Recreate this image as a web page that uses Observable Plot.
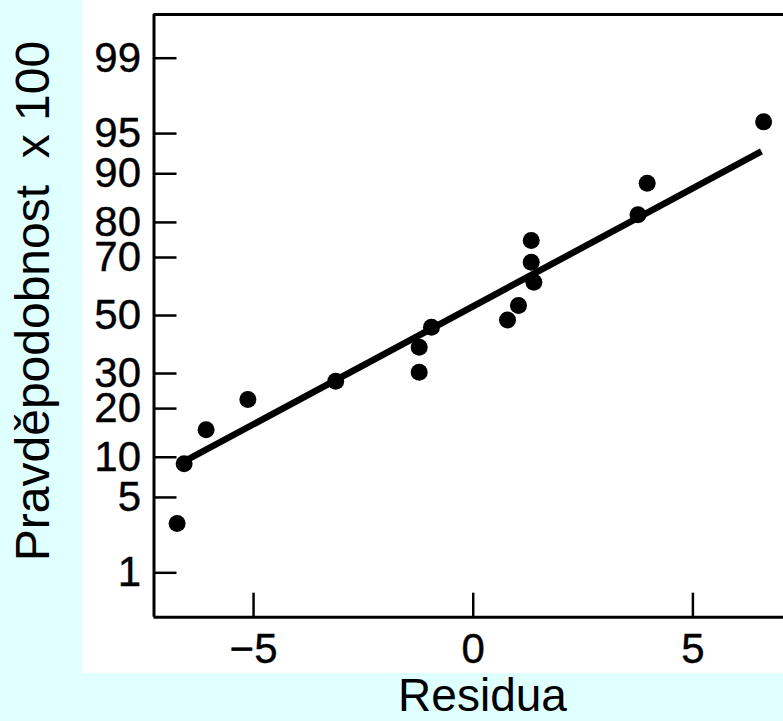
<!DOCTYPE html>
<html>
<head>
<meta charset="utf-8">
<script src="https://cdn.jsdelivr.net/npm/d3@7"></script>
<script src="https://cdn.jsdelivr.net/npm/@observablehq/plot@0.6"></script>
<style>
  html, body { margin: 0; padding: 0; overflow: hidden; }
  body { width: 783px; height: 721px; background: #E0FFFF; position: relative; font-family: "Liberation Sans", Arial, sans-serif; }
  #chart { position: absolute; left: 82px; top: 0; width: 701px; height: 673px; background: #ffffff; }
  #ylabel { position: absolute; left: 9px; top: 600.5px; width: 600px; text-align: center; font-size: 48px; line-height: 48px; white-space: pre; color: #000; transform: rotate(-90deg); transform-origin: left top; }
  #xlabel { position: absolute; left: 482.5px; top: 677px; font-size: 46px; line-height: 36px; white-space: nowrap; color: #000; transform: translateX(-50%); }
</style>
</head>
<body>
<div id="chart"></div>
<div id="ylabel">Pravděpodobnost  x 100</div>
<div id="xlabel">Residua</div>
<script>
// ---- data ----
const residuals   = [-6.74, -6.58, -6.08, -5.13, -3.13, -1.23, -1.23, -0.95, 0.78, 1.03, 1.38, 1.32, 1.32, 3.75, 3.96, 6.61];
const probability = [3.0, 9.0, 15.1, 22.4, 27.6, 30.4, 38.7, 45.8, 48.4, 53.6, 61.8, 68.5, 75.1, 81.9, 88.4, 96.0];
const fitX = [-6.61, 6.56];
const fitP = [9.24, 93.1];
const yTicks = [1, 5, 10, 20, 30, 50, 70, 80, 90, 95, 99];
const xTicks = [-5, 0, 5];
const xDomain = [-7.266, 7.062];
const pDomain = [0.319, 99.675];

// inverse normal CDF (probability-paper scale)
function probit(p) {
  const a = [-3.969683028665376e+01, 2.209460984245205e+02, -2.759285104469687e+02, 1.383577518672690e+02, -3.066479806614716e+01, 2.506628277459239e+00];
  const b = [-5.447609879822406e+01, 1.615858368580409e+02, -1.556989798598866e+02, 6.680131188771972e+01, -1.328068155288572e+01];
  const c = [-7.784894002430293e-03, -3.223964580411365e-01, -2.400758277161838e+00, -2.549732539343734e+00, 4.374664141464968e+00, 2.938163982698783e+00];
  const d = [7.784695709041462e-03, 3.224671290700398e-01, 2.445134137142996e+00, 3.754408661907416e+00];
  const plow = 0.02425, phigh = 1 - plow;
  let q, r;
  if (p < plow) {
    q = Math.sqrt(-2 * Math.log(p));
    return (((((c[0]*q+c[1])*q+c[2])*q+c[3])*q+c[4])*q+c[5]) / ((((d[0]*q+d[1])*q+d[2])*q+d[3])*q+1);
  }
  if (p <= phigh) {
    q = p - 0.5; r = q * q;
    return (((((a[0]*r+a[1])*r+a[2])*r+a[3])*r+a[4])*r+a[5])*q / (((((b[0]*r+b[1])*r+b[2])*r+b[3])*r+b[4])*r+1);
  }
  q = Math.sqrt(-2 * Math.log(1 - p));
  return -(((((c[0]*q+c[1])*q+c[2])*q+c[3])*q+c[4])*q+c[5]) / ((((d[0]*q+d[1])*q+d[2])*q+d[3])*q+1);
}
const z = pct => probit(pct / 100);

const points = residuals.map((r, i) => ({r, p: probability[i]}));
const fit = fitX.map((r, i) => ({r, p: fitP[i]}));
const yTicksZ = yTicks.map(z);
const tickLabel = new Map(yTicksZ.map((v, i) => [v, String(yTicks[i])]));
const zDomain = pDomain.map(z);

const chart = Plot.plot({
  width: 701,
  height: 673,
  marginLeft: 71.5,
  marginRight: 0,
  marginTop: 14,
  marginBottom: 56.3,
  style: {background: "white", fontFamily: "'Liberation Sans', Arial, sans-serif", color: "black", overflow: "hidden"},
  x: {domain: xDomain, label: null},
  y: {domain: zDomain, label: null},
  marks: [
    // frame: left, bottom, top
    Plot.ruleX([xDomain[0]], {y1: zDomain[0], y2: zDomain[1], stroke: "black", strokeWidth: 3}),
    Plot.ruleY([zDomain[0], zDomain[1]], {x1: xDomain[0], x2: xDomain[1], stroke: "black", strokeWidth: 3}),
    // inward ticks
    Plot.axisY({ticks: yTicksZ, tickSize: 23, dx: 23, fill: "none", strokeWidth: 2.5, tickFormat: () => ""}),
    Plot.axisX({ticks: xTicks, tickSize: 24, dy: -24, fill: "none", strokeWidth: 2.5, tickFormat: () => ""}),
    // tick labels
    Plot.axisY({ticks: yTicksZ, tickSize: 0, tickPadding: 13, fontSize: 42, textStroke: "black", textStrokeWidth: 0.4, tickFormat: v => tickLabel.get(v)}),
    Plot.axisX({ticks: xTicks, tickSize: 0, tickPadding: 16, fontSize: 42, textStroke: "black", textStrokeWidth: 0.4}),
    // fitted line
    Plot.line(fit, {x: "r", y: d => z(d.p), stroke: "black", strokeWidth: 6.5, strokeLinecap: "butt"}),
    // observations
    Plot.dot(points, {x: "r", y: d => z(d.p), r: 8.5, fill: "black", stroke: "none"})
  ]
});
document.getElementById("chart").appendChild(chart);
</script>
</body>
</html>
